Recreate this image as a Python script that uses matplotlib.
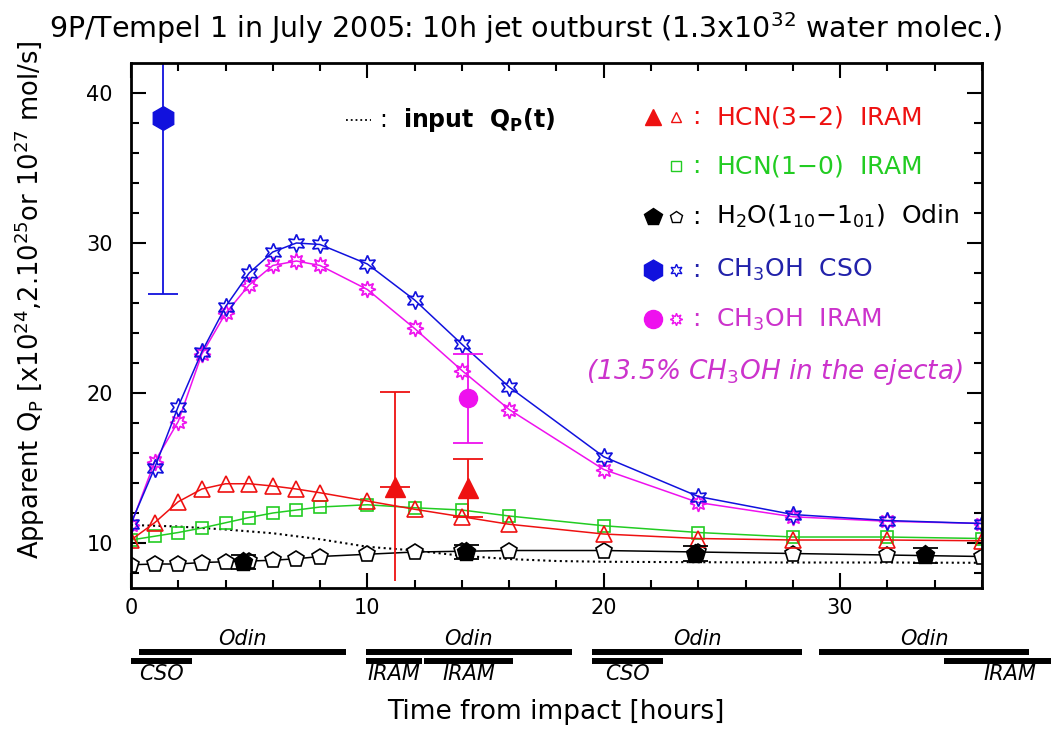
import numpy as np
import matplotlib
matplotlib.use("Agg")
import matplotlib.pyplot as plt
from matplotlib.transforms import blended_transform_factory

plt.rcParams['font.family'] = ['DejaVu Sans']
plt.rcParams['mathtext.fontset'] = 'dejavusans'

# model time grid (hours after impact)
t_model = [0, 1, 2, 3, 4, 5, 6, 7, 8, 10, 12, 14, 16, 20, 24, 28, 32, 36]

ch3oh_cso_model = [11.3, 15.0, 19.1, 22.75, 25.75, 28.0, 29.4, 30.0, 29.9, 28.6,
                   26.2, 23.25, 20.4, 15.75, 13.1, 11.9, 11.5, 11.3]
ch3oh_iram_model = [11.2, 15.4, 18.1, 22.6, 25.3, 27.2, 28.5, 28.8, 28.5, 26.9,
                    24.3, 21.5, 18.9, 14.9, 12.7, 11.75, 11.45, 11.3]
hcn32_model = [10.2, 11.35, 12.75, 13.6, 13.95, 13.95, 13.8, 13.6, 13.35, 12.8,
               12.25, 11.75, 11.25, 10.6, 10.3, 10.2, 10.2, 10.15]
hcn10_model = [10.2, 10.45, 10.7, 11.0, 11.35, 11.7, 12.0, 12.2, 12.4, 12.55,
               12.35, 12.2, 11.8, 11.15, 10.7, 10.4, 10.4, 10.3]
h2o_model = [8.55, 8.6, 8.6, 8.7, 8.75, 8.8, 8.85, 8.95, 9.1, 9.25,
             9.4, 9.45, 9.5, 9.5, 9.4, 9.3, 9.2, 9.1]

# input production rate Q_P(t)
t_input = [0, 2, 4, 6, 8, 10, 12, 14, 16, 18, 20, 24, 28, 32, 36]
q_input = [11.2, 11.1, 10.9, 10.65, 10.25, 9.75, 9.5, 9.15, 8.93, 8.8, 8.75,
           8.72, 8.7, 8.7, 8.68]

# observations
cso_t, cso_q, cso_err = [1.34], [38.3], [11.7]
iram_ch3oh_t, iram_ch3oh_q, iram_ch3oh_err = [14.25], [19.65], [2.95]
hcn32_t = [11.15, 14.25]
hcn32_q = [13.75, 13.65]
hcn32_lo = [7.5, 11.75]
hcn32_hi = [20.1, 15.6]
odin_t = [4.72, 14.18, 23.87, 33.6]
odin_q = [8.75, 9.4, 9.3, 9.2]
odin_err = [0.45, 0.45, 0.5, 0.5]

# observing windows below the time axis
windows = [
    ('Odin', 0.35, 9.08, 'upper'),
    ('CSO', 0.0, 2.6, 'lower'),
    ('Odin', 9.93, 18.66, 'upper'),
    ('IRAM', 9.93, 12.32, 'lower'),
    ('IRAM', 12.4, 16.18, 'lower'),
    ('Odin', 19.5, 28.4, 'upper'),
    ('CSO', 19.5, 22.5, 'lower'),
    ('Odin', 29.1, 38.0, 'upper'),
    ('IRAM', 34.4, 40.0, 'lower'),
]

RED = '#ee1111'
GREEN = '#22cc22'
BLUE = '#1111dd'
MAG = '#ee11ee'

fig = plt.figure(figsize=(10.51, 7.29), dpi=100)
ax = fig.add_axes([0.1246, 0.1934, 0.8097, 0.7202])

lw = 1.1
ax.plot(t_input, q_input, ':', color='black', lw=1.5)
ax.plot(t_model, h2o_model, '-', color='black', lw=lw, marker='p', ms=12,
        mfc='white', mec='black', mew=1.2)
ax.plot(t_model, hcn10_model, '-', color=GREEN, lw=lw, marker='s', ms=8.5,
        mfc='none', mec=GREEN, mew=1.2)
ax.plot(t_model, hcn32_model, '-', color=RED, lw=lw, marker='^', ms=11,
        mfc='none', mec=RED, mew=1.2)
ax.plot(t_model, ch3oh_iram_model, '-', color=MAG, lw=lw, marker=(8, 1, 0), ms=12,
        mfc='none', mec=MAG, mew=1.2)
ax.plot(t_model, ch3oh_cso_model, '-', color=BLUE, lw=lw, marker=(6, 1, 0), ms=13,
        mfc='none', mec=BLUE, mew=1.2)

# observed points
ax.errorbar(cso_t, cso_q, yerr=cso_err, fmt='h', color=BLUE, ms=17,
            capsize=11, elinewidth=1.3, capthick=1.3)
ax.errorbar(iram_ch3oh_t, iram_ch3oh_q, yerr=iram_ch3oh_err, fmt='o', color=MAG,
            ms=13, capsize=11, elinewidth=1.3, capthick=1.3)
hcn_err = [np.array(hcn32_q) - np.array(hcn32_lo), np.array(hcn32_hi) - np.array(hcn32_q)]
ax.errorbar(hcn32_t[1:], hcn32_q[1:], yerr=[hcn_err[0][1:], hcn_err[1][1:]], fmt='^',
            color=RED, ms=15, capsize=11, elinewidth=1.3, capthick=1.3)
ax.errorbar(hcn32_t[:1], hcn32_q[:1], yerr=[[0], hcn_err[1][:1]], fmt='^',
            color=RED, ms=15, capsize=11, elinewidth=1.3, capthick=1.3)
ax.vlines(hcn32_t[:1], hcn32_lo[:1], hcn32_q[:1], color=RED, lw=1.3)
ax.errorbar(odin_t, odin_q, yerr=odin_err, fmt='p', color='black', ms=14,
            capsize=9, elinewidth=1.3, capthick=1.3)

ax.set_xlim(0, 36)
ax.set_ylim(7, 42)
ax.set_xticks([0, 10, 20, 30])
ax.set_xticks(np.arange(0, 37, 2), minor=True)
ax.set_yticks([10, 20, 30, 40])
ax.set_yticks(np.arange(8, 42, 2), minor=True)
ax.tick_params(which='both', direction='in', top=True, right=True, width=1.5)
ax.tick_params(which='major', length=11, labelsize=15)
ax.tick_params(which='minor', length=6)
ax.tick_params(axis='x', pad=7)
ax.tick_params(axis='y', pad=13)
for sp in ax.spines.values():
    sp.set_linewidth(2)

# legend drawn by hand
ax.plot([9.1, 10.15], [38.2, 38.2], ':', color='black', lw=1.3)
ax.text(10.5, 38.2, ':', fontsize=17, va='center', ha='left')
ax.text(11.5, 38.2, 'input  Q$_\\mathbf{P}$(t)', fontsize=17, va='center', ha='left',
        fontweight='bold')

rows = [
    (38.4, RED, [('^', RED, RED, 12), ('^', 'none', RED, 7)], 'HCN(3$-$2)  IRAM'),
    (35.1, GREEN, [(None, None, None, 0), ('s', 'none', GREEN, 6.5)], 'HCN(1$-$0)  IRAM'),
    (31.75, 'black', [('p', 'black', 'black', 13), ('p', 'none', 'black', 9)],
     'H$_2$O(1$_{10}$$-$1$_{01}$)  Odin'),
    (28.2, '#2222aa', [('h', BLUE, BLUE, 15), ((6, 1, 0), 'none', BLUE, 9)], 'CH$_3$OH  CSO'),
    (24.9, '#cc33cc', [('o', MAG, MAG, 13), ((8, 1, 0), 'none', MAG, 9)], 'CH$_3$OH  IRAM'),
]
for y, col, marks, label in rows:
    for xm, (m, fc, ec, s) in zip([22.1, 23.07], marks):
        if m is None:
            continue
        ax.plot([xm], [y], marker=m, ms=s, mfc=fc, mec=ec, mew=1.0, ls='none')
    ax.text(23.75, y, ':', color=col, fontsize=18, va='center', ha='left')
    ax.text(24.75, y, label, color=col, fontsize=18, va='center', ha='left')
ax.text(35.2, 21.4, '(13.5% CH$_3$OH in the ejecta)', color='#cc33cc', fontsize=19,
        style='italic', va='center', ha='right')

# observing windows
trans = blended_transform_factory(ax.transData, ax.transAxes)
for name, t0, t1, row in windows:
    if row == 'upper':
        yb, yt = -0.122, -0.098
    else:
        yb, yt = -0.139, -0.163
    ax.plot([t0, t1], [yb, yb], color='black', lw=4.3, transform=trans,
            clip_on=False, solid_capstyle='butt')
    ax.text((t0 + t1) / 2, yt, name, transform=trans, fontsize=15, style='italic',
            ha='center', va='center')

fig.text(0.529, 1 - 712 / 729, 'Time from impact [hours]', fontsize=19,
         ha='center', va='center')
fig.text(30 / 1051, 1 - 300 / 729,
         'Apparent Q$_\\mathrm{P}$ [x10$^{24}$,2.10$^{25}$or 10$^{27}$ mol/s]',
         fontsize=18.5, rotation=90, ha='center', va='center')
fig.text(0.5, 0.962, '9P/Tempel 1 in July 2005: 10h jet outburst (1.3x10$^{32}$ water molec.)',
         fontsize=20.5, ha='center', va='center')

fig.savefig('out.png', dpi=100)
